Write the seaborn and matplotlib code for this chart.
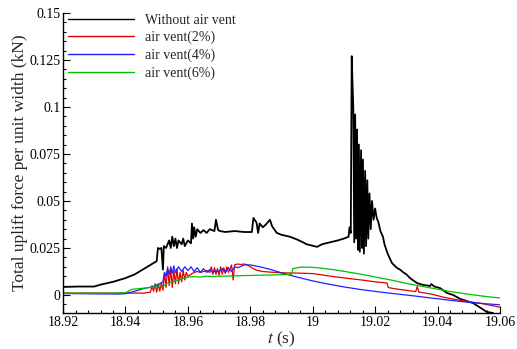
import numpy as np
import pandas as pd
import matplotlib
matplotlib.use("Agg")
import matplotlib.pyplot as plt
from matplotlib.ticker import MultipleLocator, FuncFormatter
import seaborn as sns

# values
t_none = [18.920, 18.925, 18.930, 18.932, 18.936, 18.940, 18.943, 18.946, 18.948, 18.9500,
          18.9504, 18.951, 18.9515, 18.9520, 18.9523, 18.953, 18.954, 18.9545, 18.955, 18.9555,
          18.956, 18.9565, 18.957, 18.958, 18.9585, 18.959, 18.960, 18.961, 18.9613, 18.9617,
          18.962, 18.9625, 18.963, 18.964, 18.965, 18.966, 18.967, 18.9685, 18.969, 18.9697,
          18.9703, 18.972, 18.975, 18.978, 18.9805, 18.981, 18.982, 18.9825, 18.983, 18.984,
          18.985, 18.9863, 18.987, 18.9885, 18.990, 18.9927, 18.995, 18.9969, 18.998, 19.0014,
          19.003, 19.0055, 19.008, 19.010, 19.0115, 19.0118, 19.0122, 19.0125, 19.0128, 19.0130,
          19.0133, 19.0136, 19.0139, 19.0142, 19.0145, 19.0148, 19.0151, 19.0155, 19.0158, 19.0161,
          19.0164, 19.0168, 19.0171, 19.0175, 19.0178, 19.0182, 19.0186, 19.0190, 19.0195, 19.0200,
          19.0205, 19.0210, 19.0217, 19.0225, 19.023, 19.024, 19.0254, 19.026, 19.027, 19.028,
          19.0289, 19.030, 19.0312, 19.032, 19.0334, 19.035, 19.0376, 19.038, 19.039, 19.0408,
          19.043, 19.045, 19.0472, 19.049, 19.0514, 19.053, 19.0558, 19.0578]
f_none = [0.0043, 0.0045, 0.0045, 0.0055, 0.0070, 0.0090, 0.0110, 0.0140, 0.0160, 0.0180,
          0.0250, 0.0245, 0.0250, 0.0135, 0.0260, 0.0250, 0.0290, 0.0250, 0.0310, 0.0260,
          0.0300, 0.0250, 0.0290, 0.0270, 0.0300, 0.0260, 0.0290, 0.0275, 0.0380, 0.0300,
          0.0360, 0.0310, 0.0350, 0.0330, 0.0345, 0.0330, 0.0350, 0.0340, 0.0400, 0.0345,
          0.0340, 0.0335, 0.0340, 0.0335, 0.0335, 0.0410, 0.0385, 0.0330, 0.0380, 0.0360,
          0.0375, 0.0400, 0.0365, 0.0330, 0.0320, 0.0310, 0.0295, 0.0280, 0.0270, 0.0256,
          0.0270, 0.0280, 0.0290, 0.0300, 0.0310, 0.0360, 0.0330, 0.1270, 0.1100, 0.1000,
          0.0280, 0.0960, 0.0300, 0.0880, 0.0240, 0.0800, 0.0230, 0.0770, 0.0250, 0.0720,
          0.0220, 0.0660, 0.0260, 0.0610, 0.0300, 0.0540, 0.0350, 0.0500, 0.0400, 0.0460,
          0.0410, 0.0390, 0.0340, 0.0310, 0.0270, 0.0220, 0.0170, 0.0160, 0.0144, 0.0135,
          0.0122, 0.0110, 0.0090, 0.0080, 0.0064, 0.0055, 0.0048, 0.0058, 0.0045, 0.0037,
          0.0011, 0.0000, -0.0020, -0.0030, -0.0043, -0.0060, -0.0090, -0.0096]

t_2 = [18.920, 18.930, 18.940, 18.946, 18.948, 18.9485, 18.949, 18.9495, 18.950, 18.9505,
       18.951, 18.9515, 18.952, 18.9525, 18.953, 18.9535, 18.954, 18.9545, 18.955, 18.9555,
       18.956, 18.9565, 18.957, 18.9575, 18.958, 18.9585, 18.959, 18.9595, 18.960, 18.961,
       18.962, 18.963, 18.964, 18.965, 18.966, 18.967, 18.9675, 18.968, 18.9685, 18.969,
       18.9695, 18.970, 18.9705, 18.971, 18.9715, 18.972, 18.9725, 18.973, 18.974, 18.9745,
       18.975, 18.976, 18.977, 18.978, 18.979, 18.980, 18.981, 18.982, 18.984, 18.986,
       18.988, 18.990, 18.993, 18.996, 19.000, 19.004, 19.008, 19.012, 19.016, 19.020,
       19.0238, 19.0242, 19.026, 19.030, 19.033, 19.0335, 19.034, 19.038, 19.042, 19.046,
       19.050, 19.054, 19.058, 19.060]
f_2 = [0.0010, 0.0010, 0.0010, 0.0010, 0.0015, 0.0050, 0.0020, 0.0060, 0.0015, 0.0060,
       0.0020, 0.0065, 0.0025, 0.0120, 0.0040, 0.0150, 0.0050, 0.0140, 0.0040, 0.0130,
       0.0060, 0.0140, 0.0060, 0.0120, 0.0070, 0.0130, 0.0080, 0.0120, 0.0100, 0.0110,
       0.0120, 0.0125, 0.0120, 0.0125, 0.0130, 0.0120, 0.0150, 0.0110, 0.0145, 0.0110,
       0.0140, 0.0105, 0.0150, 0.0110, 0.0145, 0.0115, 0.0150, 0.0120, 0.0160, 0.0080,
       0.0160, 0.0165, 0.0162, 0.0165, 0.0160, 0.0150, 0.0140, 0.0132, 0.0125, 0.0122,
       0.0120, 0.0118, 0.0117, 0.0116, 0.0114, 0.0104, 0.0095, 0.0087, 0.0079, 0.0070,
       0.0064, 0.0040, 0.0034, 0.0025, 0.0018, 0.0045, 0.0016, 0.0005, -0.0012, -0.0025,
       -0.0035, -0.0045, -0.0058, -0.0065]

t_4 = [18.920, 18.930, 18.938, 18.940, 18.943, 18.946, 18.949, 18.951, 18.952, 18.9525,
       18.953, 18.9535, 18.954, 18.9545, 18.955, 18.9555, 18.956, 18.957, 18.958, 18.959,
       18.960, 18.961, 18.962, 18.963, 18.964, 18.965, 18.966, 18.967, 18.968, 18.969,
       18.970, 18.971, 18.972, 18.973, 18.974, 18.975, 18.976, 18.978, 18.980, 18.983,
       18.986, 18.990, 18.995, 19.000, 19.005, 19.010, 19.015, 19.020, 19.025, 19.030,
       19.035, 19.040, 19.045, 19.050, 19.055, 19.060]
f_4 = [0.0008, 0.0006, 0.0005, 0.0007, 0.0020, 0.0035, 0.0045, 0.0060, 0.0070, 0.0120,
       0.0100, 0.0140, 0.0110, 0.0150, 0.0115, 0.0155, 0.0120, 0.0150, 0.0125, 0.0150,
       0.0130, 0.0150, 0.0125, 0.0145, 0.0120, 0.0140, 0.0120, 0.0135, 0.0120, 0.0130,
       0.0125, 0.0140, 0.0120, 0.0145, 0.0125, 0.0150, 0.0145, 0.0160, 0.0160, 0.0150,
       0.0138, 0.0118, 0.0095, 0.0075, 0.0058, 0.0043, 0.0030, 0.0019, 0.0009, 0.0000,
       -0.0010, -0.0020, -0.0030, -0.0039, -0.0046, -0.0052]

t_6 = [18.920, 18.935, 18.940, 18.942, 18.945, 18.948, 18.951, 18.9525, 18.953, 18.955,
       18.957, 18.959, 18.960, 18.962, 18.964, 18.966, 18.968, 18.970, 18.972, 18.975,
       18.980, 18.985, 18.990, 18.9932, 18.9936, 18.996, 18.999, 19.002, 19.006, 19.010,
       19.015, 19.020, 19.025, 19.030, 19.035, 19.040, 19.045, 19.050, 19.055, 19.060]
f_6 = [0.0010, 0.0010, 0.0012, 0.0030, 0.0035, 0.0040, 0.0048, 0.0050, 0.0060, 0.0070,
       0.0080, 0.0090, 0.0095, 0.0098, 0.0095, 0.0100, 0.0098, 0.0100, 0.0100, 0.0102,
       0.0104, 0.0106, 0.0108, 0.0110, 0.0140, 0.0148, 0.0148, 0.0144, 0.0136, 0.0126,
       0.0112, 0.0096, 0.0080, 0.0062, 0.0046, 0.0031, 0.0016, 0.0004, -0.0007, -0.0016]

labels = ["Without air vent", "air vent(2%)", "air vent(4%)", "air vent(6%)"]
colors = ["black", "#e00000", "#2020ff", "#00c000"]

frames = []
for lab, t, f in zip(labels, [t_none, t_2, t_4, t_6], [f_none, f_2, f_4, f_6]):
    frames.append(pd.DataFrame({"t": t, "force": f, "case": lab}))
df = pd.concat(frames, ignore_index=True)

sns.set_theme(style="ticks")
plt.rcParams["font.family"] = ["Liberation Serif", "DejaVu Serif"]
plt.rcParams["mathtext.fontset"] = "stix"

fig = plt.figure(figsize=(5.17, 3.49), dpi=100)
ax = fig.add_axes([0.122, 0.103, 0.845, 0.860])

sns.lineplot(data=df, x="t", y="force", hue="case", hue_order=labels,
             palette=dict(zip(labels, colors)), estimator=None, sort=False,
             linewidth=0.9, ax=ax)
ax.lines[0].set_linewidth(1.3)

ax.set_xlim(18.92, 19.06)
ax.set_ylim(-0.0096, 0.15)
ax.xaxis.set_major_locator(MultipleLocator(0.02))
ax.xaxis.set_minor_locator(MultipleLocator(0.004))
ax.yaxis.set_major_locator(MultipleLocator(0.025))
ax.yaxis.set_minor_locator(MultipleLocator(0.005))
fmt = FuncFormatter(lambda v, p: "%g" % round(v, 4))
ax.xaxis.set_major_formatter(fmt)
ax.yaxis.set_major_formatter(fmt)
ax.tick_params(which="both", direction="in", colors="black", labelsize=10, width=0.8, pad=2)
ax.tick_params(which="major", length=5)
ax.tick_params(which="minor", length=2.5)
sns.despine(ax=ax)
for s in ["left", "bottom"]:
    ax.spines[s].set_color("black")
    ax.spines[s].set_linewidth(1.0)

ax.set_xlabel("$t$ (s)", fontsize=12.5, labelpad=1)
ax.set_ylabel("Total uplift force per unit width (kN)", fontsize=12.5, labelpad=1)

leg = ax.legend(loc="upper left", bbox_to_anchor=(0.012, 0.997), frameon=False,
                fontsize=10, handlelength=4.7, handletextpad=0.85, labelspacing=0.3,
                borderpad=0, borderaxespad=0)
for h in leg.get_lines():
    h.set_linewidth(1.0)

fig.savefig("out.png", dpi=100)
